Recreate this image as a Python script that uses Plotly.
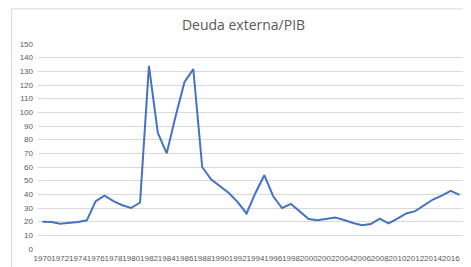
import plotly.graph_objects as go

years = list(range(1970, 2018))
deuda = [20, 19.8, 18.5, 19, 19.7, 21, 35, 39, 35, 32, 30, 34,
         134, 85, 70, 97, 122, 131.6, 60, 51, 46, 41, 34.3, 26,
         41, 54, 38.6, 30, 33, 27.7, 22, 21, 22.2, 23, 21.2, 19,
         17.4, 18.3, 22.2, 18.8, 22.2, 26, 27.7, 31.9, 36.2, 39, 42.5, 39.6]
tick_years = list(range(1970, 2017, 2))
y_ticks = list(range(0, 151, 10))

L, R, T, B = 27, 15, 36, 24
W, H = 471, 267
pw, ph = W - L - R, H - T - B

fig = go.Figure()
fig.add_trace(go.Scatter(x=years, y=deuda, mode="lines",
                         line=dict(color="#4472C4", width=2)))
fig.update_layout(
    width=W, height=H,
    margin=dict(l=L, r=R, t=T, b=B),
    paper_bgcolor="white", plot_bgcolor="white",
    showlegend=False,
    title=dict(text="Deuda externa/PIB", x=0.5, xanchor="center",
               y=1 - 17 / H, yanchor="middle",
               font=dict(family="Open Sans", size=14, color="#595959")),
    font=dict(family="Open Sans", color="#595959"),
    xaxis=dict(range=[1969.5, 2017.5], tickmode="array", tickvals=tick_years,
               ticktext=[str(y) for y in tick_years], showgrid=False,
               zeroline=False, showline=False, tickangle=0,
               tickfont=dict(family="Liberation Sans", size=8, color="#595959"),
               ticks="", ticklabelstandoff=3),
    yaxis=dict(range=[0, 150], tickmode="array", tickvals=y_ticks,
               showgrid=True, gridcolor="#d9d9d9", gridwidth=1,
               zeroline=False, showline=False, ticks="",
               tickfont=dict(family="Liberation Sans", size=8, color="#595959"),
               ticklabelstandoff=4),
    shapes=[dict(type="rect", xref="paper", yref="paper",
                 x0=(0.5 - L) / pw, x1=(470 - L) / pw,
                 y0=(H - B - 263) / ph, y1=(H - B - 0.5) / ph,
                 line=dict(color="#d9d9d9", width=1), layer="below")],
)
fig.write_html("out.html")
